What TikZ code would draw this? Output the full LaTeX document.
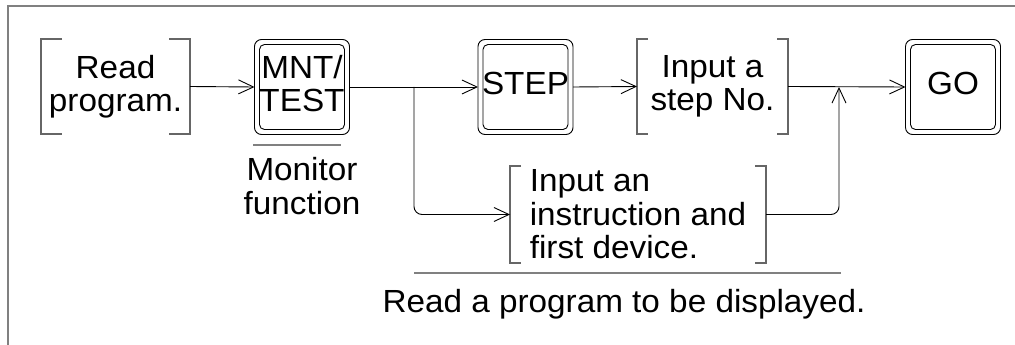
\documentclass[tikz,border=0pt]{standalone}
\usepackage{fontspec}
\setmainfont{Liberation Sans}[FakeStretch=1.04]
\usetikzlibrary{arrows.meta}
\newcommand\drawbrk[2]{%
  \draw[brkline] ([xshift=#2]#1.north west) -- (#1.north west) -- (#1.south west) -- ([xshift=#2]#1.south west);
  \draw[brkline] ([xshift=-#2]#1.north east) -- (#1.north east) -- (#1.south east) -- ([xshift=-#2]#1.south east);}
\begin{document}
\begin{tikzpicture}[x=1pt,y=-1pt,
  txt/.style={font=\fontsize{32}{33.5}\selectfont, inner sep=0pt, outer sep=0pt, align=center},
  brkbox/.style={txt, minimum height=95pt},
  keybox/.style={draw, line width=0.9pt, rounded corners=7pt, minimum width=95pt, minimum height=95pt, inner sep=0pt, outer sep=0pt},
  keyin/.style={line width=0.9pt, rounded corners=5pt},
  brkline/.style={draw=black!60, line width=1.4pt},
  arr/.style={draw, line width=0.9pt, -{Straight Barb[length=15pt,width=14pt,line width=0.9pt]}},
  conn/.style={draw, line width=0.9pt},
  grayline/.style={draw=black!50, line width=1.8pt}]
\useasboundingbox (0,0) rectangle (1015,345);
\draw[grayline] (8,345) -- (8,6) -- (1015,6);

% nodes
\node[brkbox, minimum width=149pt] (read) at (115.5,86.5) {Read\\program.};
\node[keybox] (mnt) at (302,87) {};
\node[keybox] (stepk) at (525.5,87) {};
\node[brkbox, minimum width=151pt] (stepno) at (712.5,86.5) {Input a\\step No.};
\node[keybox] (go) at (953,87) {};
\node[brkbox, minimum width=256pt, minimum height=97pt, align=left] (instr) at (638,214.5) {Input an\\instruction and\\first device.};

\foreach \k in {mnt,stepk,go}
  \draw[keyin] ([shift={(5pt,5pt)}]\k.south west) rectangle ([shift={(-5pt,-5pt)}]\k.north east);

\node[txt] (mntlbl) at (302,83.5) {MNT/\\TEST};
\node[txt] (steplbl) at (525.5,83.5) {STEP};
\node[txt] (golbl) at (953,83.5) {GO};
\node[txt] (mon) at (302,186) {Monitor\\function};
\node[txt, anchor=base] (disp) at (624,312) {Read a program to be displayed.};

\drawbrk{read}{21pt}
\drawbrk{stepno}{11pt}
\drawbrk{instr}{11pt}

\draw[grayline] (253,145) -- (341,145);
\draw[grayline] (414,273) -- (841,273);

% connectors
\coordinate (br) at (414,87);
\coordinate (jn) at (839,87);
\draw[arr] (read.east) -- (mnt.west);
\draw[arr] (mnt.east) -- (stepk.west);
\draw[arr] (stepk.east) -- (stepno.west);
\draw[arr] (stepno.east) -- (go.west);
\draw[arr, rounded corners=8pt] (br) |- (instr.west);
\draw[arr, rounded corners=8pt] (instr.east) -| (jn);
\end{tikzpicture}
\end{document}
